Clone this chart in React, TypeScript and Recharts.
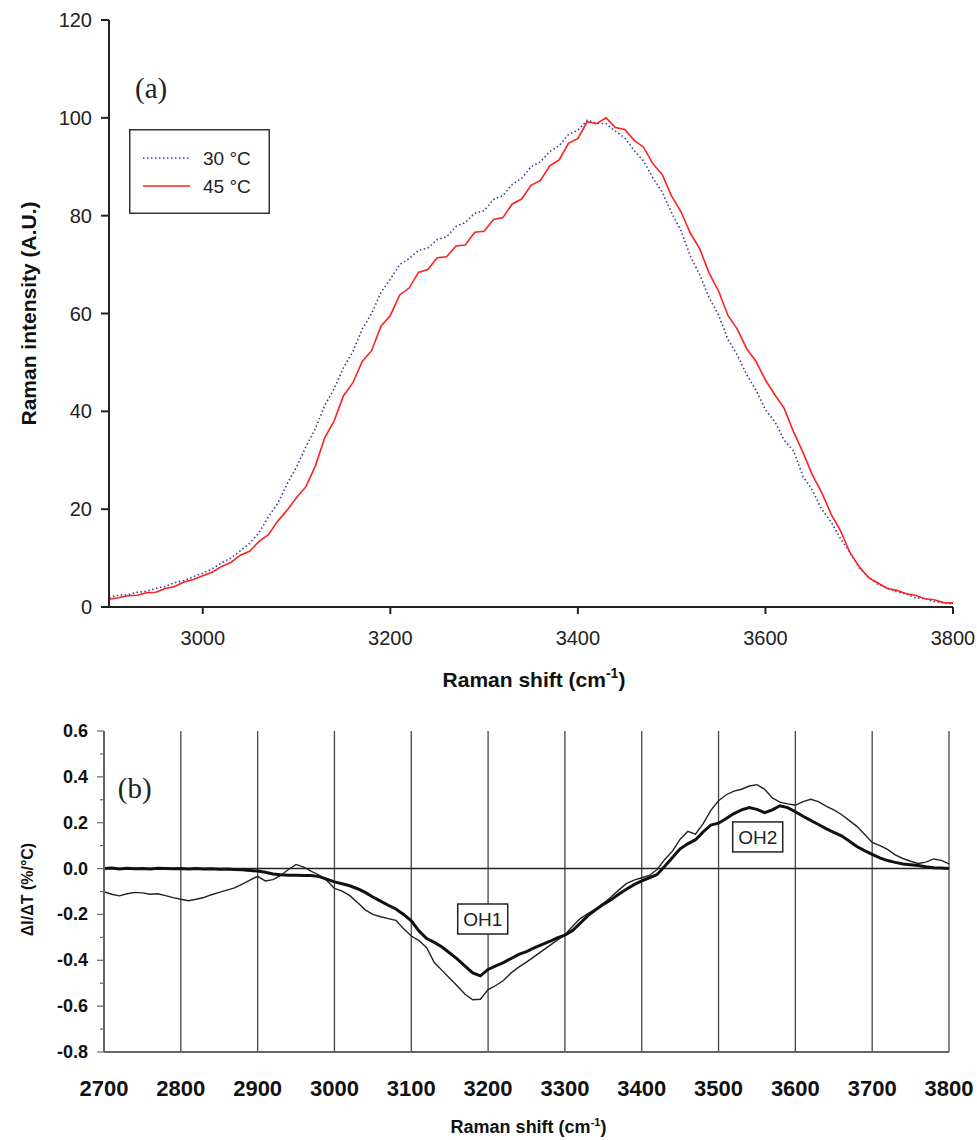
import React from "react";
import {
  LineChart,
  Line,
  XAxis,
  YAxis,
  CartesianGrid,
  ReferenceLine,
  ReferenceDot,
  Legend,
  Label,
} from "recharts";

// (a) Raman spectra, 30 and 45 °C
const shiftA = [
  2900, 2910, 2920, 2930, 2940, 2950, 2960, 2970, 2980, 2990,
  3000, 3010, 3020, 3030, 3040, 3050, 3060, 3070, 3080, 3090,
  3100, 3110, 3120, 3130, 3140, 3150, 3160, 3170, 3180, 3190,
  3200, 3210, 3220, 3230, 3240, 3250, 3260, 3270, 3280, 3290,
  3300, 3310, 3320, 3330, 3340, 3350, 3360, 3370, 3380, 3390,
  3400, 3410, 3420, 3430, 3440, 3450, 3460, 3470, 3480, 3490,
  3500, 3510, 3520, 3530, 3540, 3550, 3560, 3570, 3580, 3590,
  3600, 3610, 3620, 3630, 3640, 3650, 3660, 3670, 3680, 3690,
  3700, 3710, 3720, 3730, 3740, 3750, 3760, 3770, 3780, 3790,
  3800,
];
const int30 = [
  2.0, 2.4, 2.5, 3.0, 3.2, 3.8, 4.2, 5.0, 5.4, 6.2,
  6.9, 7.8, 9.0, 10.0, 11.5, 13.0, 15.2, 18.4, 21.2, 25.2,
  28.6, 32.8, 36.4, 41.2, 44.6, 48.9, 52.2, 56.8, 60.0, 64.3,
  67.0, 70.0, 71.2, 72.9, 73.4, 75.1, 75.7, 77.8, 78.6, 80.5,
  81.0, 83.3, 84.1, 86.4, 87.6, 90.0, 91.0, 93.1, 94.3, 96.6,
  97.5, 99.5, 98.9, 98.8, 97.3, 95.9, 93.3, 91.2, 87.7, 84.8,
  80.5, 76.9, 71.7, 67.9, 63.2, 59.7, 54.7, 51.5, 47.5, 44.3,
  40.3, 37.9, 34.1, 31.9, 26.7, 23.9, 20.0, 17.4, 14.0, 11.2,
  8.0, 6.1, 4.6, 3.9, 3.1, 2.7, 1.9, 1.7, 1.1, 0.9,
  0.6,
];
const int45 = [
  1.6, 1.9, 2.3, 2.4, 2.9, 3.0, 3.8, 4.2, 5.1, 5.6,
  6.4, 7.1, 8.3, 9.1, 10.6, 11.4, 13.4, 14.8, 17.6, 19.8,
  22.4, 24.6, 28.8, 34.6, 38.0, 43.2, 45.8, 50.2, 52.4, 57.4,
  59.6, 63.8, 65.2, 68.4, 69.0, 71.4, 71.6, 73.8, 74.0, 76.6,
  76.8, 79.2, 79.6, 82.4, 83.4, 86.2, 87.2, 90.2, 91.4, 94.8,
  95.8, 99.2, 98.8, 100.0, 98.0, 97.6, 95.4, 94.0, 90.6, 88.4,
  84.0, 80.8, 76.4, 73.2, 68.2, 64.6, 59.6, 56.8, 52.8, 50.2,
  46.4, 43.4, 40.6, 35.8, 31.6, 27.0, 23.4, 19.0, 15.6, 11.2,
  8.2, 6.0, 4.9, 3.8, 3.4, 2.7, 2.4, 1.7, 1.5, 0.9,
  0.8,
];
const ticksA = [3000, 3200, 3400, 3600, 3800];
const ticksIntensity = [0, 20, 40, 60, 80, 100, 120];

// (b) temperature derivative
const shiftB = [
  2700, 2710, 2720, 2730, 2740, 2750, 2760, 2770, 2780, 2790,
  2800, 2810, 2820, 2830, 2840, 2850, 2860, 2870, 2880, 2890,
  2900, 2910, 2920, 2930, 2940, 2950, 2960, 2970, 2980, 2990,
  3000, 3010, 3020, 3030, 3040, 3050, 3060, 3070, 3080, 3090,
  3100, 3110, 3120, 3130, 3140, 3150, 3160, 3170, 3180, 3190,
  3200, 3210, 3220, 3230, 3240, 3250, 3260, 3270, 3280, 3290,
  3300, 3310, 3320, 3330, 3340, 3350, 3360, 3370, 3380, 3390,
  3400, 3410, 3420, 3430, 3440, 3450, 3460, 3470, 3480, 3490,
  3500, 3510, 3520, 3530, 3540, 3550, 3560, 3570, 3580, 3590,
  3600, 3610, 3620, 3630, 3640, 3650, 3660, 3670, 3680, 3690,
  3700, 3710, 3720, 3730, 3740, 3750, 3760, 3770, 3780, 3790,
  3800,
];
const dBold = [
  0.0, 0.002, -0.002, 0.001, -0.001, 0.0, -0.002, 0.001, 0.0, -0.001,
  0.0, -0.002, 0.0, -0.002, -0.001, -0.003, -0.002, -0.004, -0.005, -0.008,
  -0.011, -0.016, -0.024, -0.027, -0.029, -0.029, -0.03, -0.03, -0.035, -0.046,
  -0.058, -0.066, -0.075, -0.088, -0.104, -0.124, -0.142, -0.16, -0.176, -0.2,
  -0.228, -0.272, -0.305, -0.322, -0.342, -0.368, -0.395, -0.425, -0.455, -0.468,
  -0.44, -0.424, -0.41, -0.392, -0.374, -0.362, -0.346, -0.332, -0.318, -0.302,
  -0.29, -0.27, -0.238, -0.205, -0.18, -0.156, -0.136, -0.112, -0.09, -0.07,
  -0.054, -0.04, -0.026, 0.01, 0.048, 0.086, 0.108, 0.126, 0.16, 0.19,
  0.198, 0.218, 0.24, 0.256, 0.266, 0.258, 0.244, 0.256, 0.274, 0.266,
  0.248, 0.228, 0.21, 0.192, 0.174, 0.158, 0.143, 0.12, 0.096, 0.078,
  0.062, 0.047, 0.035, 0.027, 0.02, 0.017, 0.013, 0.008, 0.004, 0.002,
  0.0,
];
const dThin = [
  -0.101, -0.112, -0.119, -0.11, -0.104, -0.106, -0.112, -0.11, -0.118, -0.127,
  -0.134, -0.14, -0.134, -0.126, -0.114, -0.104, -0.094, -0.084, -0.068, -0.05,
  -0.034, -0.054, -0.048, -0.03, -0.004, 0.018, 0.006, -0.012, -0.028, -0.052,
  -0.086, -0.098, -0.118, -0.148, -0.18, -0.2, -0.21, -0.218, -0.226, -0.262,
  -0.294, -0.314, -0.345, -0.41, -0.444, -0.478, -0.512, -0.548, -0.572, -0.57,
  -0.528, -0.51, -0.488, -0.455, -0.43, -0.408, -0.384, -0.36, -0.336, -0.312,
  -0.29, -0.252, -0.218, -0.196, -0.176, -0.152, -0.124, -0.094, -0.066, -0.05,
  -0.04, -0.03, -0.004, 0.04, 0.076, 0.128, 0.162, 0.15, 0.196, 0.254,
  0.296, 0.322, 0.338, 0.346, 0.36, 0.366, 0.346, 0.308, 0.29, 0.282,
  0.276, 0.292, 0.302, 0.292, 0.272, 0.256, 0.236, 0.21, 0.184, 0.15,
  0.114, 0.1, 0.084, 0.06, 0.044, 0.032, 0.022, 0.028, 0.042, 0.036,
  0.02,
];
const ticksB = [2700, 2800, 2900, 3000, 3100, 3200, 3300, 3400, 3500, 3600, 3700, 3800];
const ticksDeriv = [-0.8, -0.7, -0.6, -0.5, -0.4, -0.3, -0.2, -0.1, 0, 0.1, 0.2, 0.3, 0.4, 0.5, 0.6];

const dataA = shiftA.map((s, i) => ({ shift: s, t30: int30[i], t45: int45[i] }));
const dataB = shiftB.map((s, i) => ({ shift: s, bold: dBold[i], thin: dThin[i] }));

const SANS = "'Liberation Sans', Arial, sans-serif";
const SERIF = "'Liberation Serif', 'Times New Roman', serif";

function LegendBox() {
  return (
    <svg width={141} height={85}>
      <rect x={0.75} y={0.75} width={139.5} height={83.5} fill="#fff" stroke="#333" strokeWidth={1.5} />
      <line x1={14} x2={61} y1={29} y2={29} stroke="#3a3a9c" strokeWidth={1.5} strokeDasharray="1.5 2.5" />
      <line x1={14} x2={61} y1={57} y2={57} stroke="#ff2020" strokeWidth={1.5} />
      <text x={74} y={36} fontSize={19} fontFamily={SANS} fill="#222">30 °C</text>
      <text x={74} y={64} fontSize={19} fontFamily={SANS} fill="#222">45 °C</text>
    </svg>
  );
}

function DerivTick(props: any) {
  const { x, y, payload } = props;
  const axisX = x + 16;
  const v = payload.value;
  const major = Math.round(v * 10) % 2 === 0;
  return (
    <g>
      <line x1={axisX - (major ? 7 : 4)} x2={axisX} y1={y} y2={y} stroke="#666" strokeWidth={1.2} />
      {major && (
        <text x={x} y={y} dy={6} textAnchor="end" fontSize={18} fontWeight="bold" fontFamily={SANS} fill="#111">
          {v.toFixed(1)}
        </text>
      )}
    </g>
  );
}

function BoxLabel({ viewBox, text }: any) {
  const cx = viewBox.x + (viewBox.width || 0) / 2;
  const cy = viewBox.y + (viewBox.height || 0) / 2;
  return (
    <g>
      <rect x={cx - 25} y={cy - 15} width={50} height={30} fill="#fff" stroke="#222" strokeWidth={1.5} />
      <text x={cx} y={cy + 7} textAnchor="middle" fontSize={19} fontFamily={SANS} fill="#222">
        {text}
      </text>
    </g>
  );
}

function PanelTag({ viewBox, text }: any) {
  return (
    <text x={viewBox.x} y={viewBox.y + 10} textAnchor="middle" fontSize={29} fontFamily={SERIF} fill="#222">
      {text}
    </text>
  );
}

export default function App() {
  return (
    <div style={{ position: "absolute", left: 0, top: 0, width: 977, height: 1140, background: "#fff" }}>
      <div style={{ position: "absolute", left: 0, top: 0 }}>
        <LineChart width={977} height={700} data={dataA} margin={{ top: 20, right: 24, left: 0, bottom: 0 }}>
          <XAxis
            dataKey="shift"
            type="number"
            domain={[2900, 3800]}
            ticks={ticksA}
            height={93}
            axisLine={{ stroke: "#222", strokeWidth: 2 }}
            tickLine={{ stroke: "#222", strokeWidth: 2 }}
            tickSize={7}
            tickMargin={17}
            tick={{ fontSize: 20, fontFamily: SANS, fill: "#222" }}
          >
            <Label
              content={({ viewBox }: any) => (
                <text
                  x={viewBox.x + viewBox.width / 2 + 3}
                  y={viewBox.y + 80}
                  textAnchor="middle"
                  fontSize={21}
                  fontWeight="bold"
                  fontFamily={SANS}
                  fill="#111"
                >
                  Raman shift (cm
                  <tspan dy={-9} fontSize={14}>-1</tspan>
                  <tspan dy={9}>)</tspan>
                </text>
              )}
            />
          </XAxis>
          <XAxis xAxisId="top" orientation="top" dataKey="shift" type="number" domain={[2900, 3800]} height={0} tick={false} tickLine={false} axisLine={{ stroke: "#222", strokeWidth: 2 }} />
          <YAxis
            type="number"
            domain={[0, 120]}
            ticks={ticksIntensity}
            width={109}
            axisLine={{ stroke: "#222", strokeWidth: 2 }}
            tickLine={{ stroke: "#222", strokeWidth: 2 }}
            tickSize={8}
            tickMargin={9}
            tick={{ fontSize: 20, fontFamily: SANS, fill: "#222" }}
          >
            <Label
              content={({ viewBox }: any) => {
                const cx = 28;
                const cy = viewBox.y + viewBox.height / 2;
                return (
                  <text
                    x={cx}
                    y={cy}
                    transform={`rotate(-90 ${cx} ${cy})`}
                    textAnchor="middle"
                    dominantBaseline="central"
                    fontSize={21}
                    fontWeight="bold"
                    fontFamily={SANS}
                    fill="#111"
                  >
                    Raman intensity (A.U.)
                  </text>
                );
              }}
            />
          </YAxis>
          <YAxis yAxisId="right" orientation="right" domain={[0, 120]} width={0} tick={false} tickLine={false} axisLine={{ stroke: "#777", strokeWidth: 2 }} />
          <Legend
            layout="horizontal"
            align="center"
            verticalAlign="middle"
            wrapperStyle={{ left: 129, top: 129, width: 141, height: 85 }}
            content={() => <LegendBox />}
          />
          <ReferenceDot x={2945} y={106} r={0} stroke="none" label={(p: any) => <PanelTag {...p} text="(a)" />} />
          <Line type="linear" dataKey="t30" stroke="#3a3a9c" strokeWidth={1.6} strokeDasharray="1.5 2.5" dot={false} isAnimationActive={false} />
          <Line type="linear" dataKey="t45" stroke="#ff2020" strokeWidth={1.6} dot={false} isAnimationActive={false} />
        </LineChart>
      </div>

      <div style={{ position: "absolute", left: 0, top: 700 }}>
        <LineChart width={977} height={440} data={dataB} margin={{ top: 31, right: 28, left: 0, bottom: 0 }}>
          <CartesianGrid horizontal={false} vertical stroke="#444" strokeWidth={1.3} />
          <XAxis
            dataKey="shift"
            type="number"
            domain={[2700, 3800]}
            ticks={ticksB}
            height={88}
            axisLine={{ stroke: "#666", strokeWidth: 2 }}
            tickLine={false}
            tickSize={0}
            tickMargin={28}
            tick={{ fontSize: 22, fontWeight: "bold", fontFamily: SANS, fill: "#111" }}
          >
            <Label
              content={({ viewBox }: any) => (
                <text
                  x={viewBox.x + viewBox.width / 2 + 2}
                  y={viewBox.y + 81}
                  textAnchor="middle"
                  fontSize={18}
                  fontWeight="bold"
                  fontFamily={SANS}
                  fill="#111"
                >
                  Raman shift (cm
                  <tspan dy={-7} fontSize={11}>-1</tspan>
                  <tspan dy={7}>)</tspan>
                </text>
              )}
            />
          </XAxis>
          <XAxis xAxisId="top" orientation="top" dataKey="shift" type="number" domain={[2700, 3800]} height={0} tick={false} tickLine={false} axisLine={{ stroke: "#666", strokeWidth: 2 }} />
          <YAxis
            type="number"
            domain={[-0.8, 0.6]}
            ticks={ticksDeriv}
            width={104}
            axisLine={{ stroke: "#666", strokeWidth: 2 }}
            tickLine={false}
            tickSize={7}
            tickMargin={9}
            tick={<DerivTick />}
            interval={0}
          >
            <Label
              content={({ viewBox }: any) => {
                const cx = 27;
                const cy = viewBox.y + viewBox.height / 2 - 2;
                return (
                  <text
                    x={cx}
                    y={cy}
                    transform={`rotate(-90 ${cx} ${cy})`}
                    textAnchor="middle"
                    dominantBaseline="central"
                    fontSize={16}
                    fontWeight="bold"
                    fontFamily={SANS}
                    fill="#111"
                  >
                    ΔI/ΔT (%/°C)
                  </text>
                );
              }}
            />
          </YAxis>
          <YAxis yAxisId="right" orientation="right" domain={[-0.8, 0.6]} width={0} tick={false} tickLine={false} axisLine={{ stroke: "#888", strokeWidth: 2 }} />
          <ReferenceLine y={0} stroke="#222" strokeWidth={1.5} />
          <ReferenceDot x={2740} y={0.35} r={0} stroke="none" label={(p: any) => <PanelTag {...p} text="(b)" />} />
          <Line type="linear" dataKey="thin" stroke="#222" strokeWidth={1.4} dot={false} isAnimationActive={false} />
          <Line type="linear" dataKey="bold" stroke="#111" strokeWidth={3} dot={false} isAnimationActive={false} />
          <ReferenceDot x={3193} y={-0.22} r={0} stroke="none" label={(p: any) => <BoxLabel {...p} text="OH1" />} />
          <ReferenceDot x={3551} y={0.138} r={0} stroke="none" label={(p: any) => <BoxLabel {...p} text="OH2" />} />
        </LineChart>
      </div>
    </div>
  );
}
